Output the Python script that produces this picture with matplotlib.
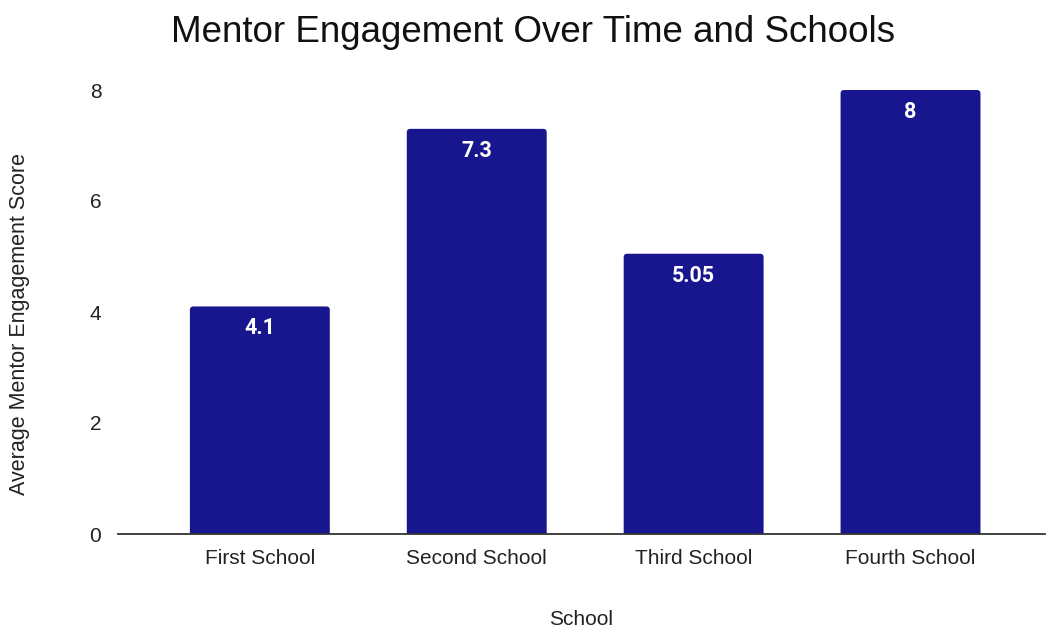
import matplotlib
matplotlib.use("Agg")
import matplotlib.pyplot as plt
from matplotlib.patches import FancyBboxPatch

schools = ["First School", "Second School", "Third School", "Fourth School"]
scores = [4.1, 7.3, 5.05, 8]
score_labels = ["4.1", "7.3", "5.05", "8"]

bar_color = "#18168f"
plt.rcParams["font.family"] = ["Liberation Sans", "DejaVu Sans"]

fig = plt.figure(figsize=(10.47, 6.27), dpi=100)
ax = fig.add_axes([118 / 1047, 1 - 534 / 627, (1045 - 118) / 1047, (534 - 90) / 627])

xs = range(len(schools))
width = 0.645
ax.set_xlim(-0.654, 3.62)
ax.set_ylim(0, 8)

# aspect between x and y data units, so the corners come out round
px_x = ax.get_position().width * 1047 / (3.62 + 0.654)
px_y = ax.get_position().height * 627 / 8
r = 3.5 / px_x
for x, v, lab in zip(xs, scores, score_labels):
    # start below zero so the bottom rounding is clipped by the axes
    ax.add_patch(FancyBboxPatch((x - width / 2, -0.3), width, v + 0.3,
                                boxstyle=f"round,pad=0,rounding_size={r}",
                                mutation_aspect=px_x / px_y,
                                facecolor=bar_color, edgecolor="none", zorder=2))
    ax.annotate(lab, (x, v), xytext=(0, -22), textcoords="offset pixels",
                ha="center", va="center", color="white", fontsize=15.5,
                fontweight="bold", family=["Roboto", "DejaVu Sans"], zorder=3)

ax.set_xticks(list(xs))
ax.set_xticklabels(schools, fontsize=15, color="#222222")
ax.set_yticks([0, 2, 4, 6, 8])
ax.set_yticklabels(["0", "2", "4", "6", "8"], fontsize=15, color="#222222")
ax.tick_params(axis="both", length=0)
ax.tick_params(axis="x", pad=11)
ax.tick_params(axis="y", pad=12)

for s in ["top", "right", "left"]:
    ax.spines[s].set_visible(False)
ax.spines["bottom"].set_color("#333333")
ax.spines["bottom"].set_linewidth(1.3)
ax.spines["bottom"].set_zorder(4)

ax.set_xlabel("School", fontsize=15, color="#222222", labelpad=30)
fig.text(20 / 1047, 1 - 324 / 627, "Average Mentor Engagement Score", rotation=90,
         ha="center", va="center", fontsize=15.5, color="#222222")
fig.text(533 / 1047, 1 - 33 / 627, "Mentor Engagement Over Time and Schools",
         ha="center", va="center", fontsize=26.5, color="#111111")

fig.savefig("out.png", dpi=100)
